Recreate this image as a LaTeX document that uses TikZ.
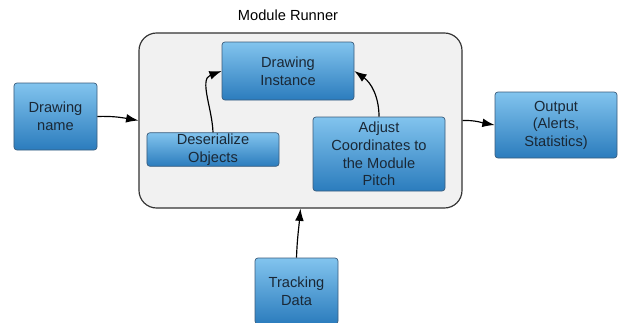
\documentclass[tikz,border=0pt]{standalone}
\usepackage{fontspec}
\setmainfont{Liberation Sans}
\usetikzlibrary{arrows.meta}
\definecolor{boxtop}{HTML}{82C4EE}
\definecolor{boxbot}{HTML}{2B7CBD}
\definecolor{boxline}{HTML}{3A5C7C}
\definecolor{boxtext}{HTML}{1A2836}
\definecolor{runnerfill}{HTML}{F1F1F1}
\begin{document}
\begin{tikzpicture}[x=0.03cm, y=-0.03cm,
    block/.style={draw=boxline, line width=0.6pt, rounded corners=2.5pt,
      top color=boxtop, bottom color=boxbot, text=boxtext, align=center,
      font=\fontsize{12.5}{15}\selectfont, inner sep=1pt},
    flow/.style={-{Latex[length=10.5pt,width=7.5pt]}, line width=1pt}]
    \useasboundingbox (0,0) rectangle (618,322);

    % container
    \node[draw=black!80, line width=1pt, fill=runnerfill, rounded corners=15pt,
          minimum width=9.69cm, minimum height=5.25cm] (runner) at (300.5,120.5) {};
    \node[font=\fontsize{12.5}{15}\selectfont] (title) at (288,15) {Module Runner};

    \node[block, minimum width=2.49cm, minimum height=2.01cm] (name) at (55.5,116.5) {Drawing\\name};
    \node[block, minimum width=3.96cm, minimum height=1.74cm] (inst) at (288,71) {Drawing\\Instance};
    \node[block, minimum width=3.96cm, minimum height=0.99cm] (deser) at (213,149.5) {Deserialize\\Objects};
    \node[block, minimum width=3.96cm, minimum height=2.22cm] (adjust) at (379,154) {Adjust\\Coordinates to\\the Module\\Pitch};
    \node[block, minimum width=3.66cm, minimum height=1.98cm] (output) at (556,125) {Output\\(Alerts,\\Statistics)};
    \node[block, minimum width=2.49cm, minimum height=1.98cm] (track) at (296.5,291) {Tracking\\Data};

    \draw[flow] (name.east) to[out=2, in=170] (runner.west);
    \draw[flow] (deser.north) to[out=92, in=200] (inst.west);
    \draw[flow] (adjust.north) to[out=90, in=-35] (inst.east);
    \draw[flow] (runner.east) to[out=2, in=170] (output.west);
    \draw[flow] (track.north) to[out=88, in=265] (runner.south);
\end{tikzpicture}
\end{document}
